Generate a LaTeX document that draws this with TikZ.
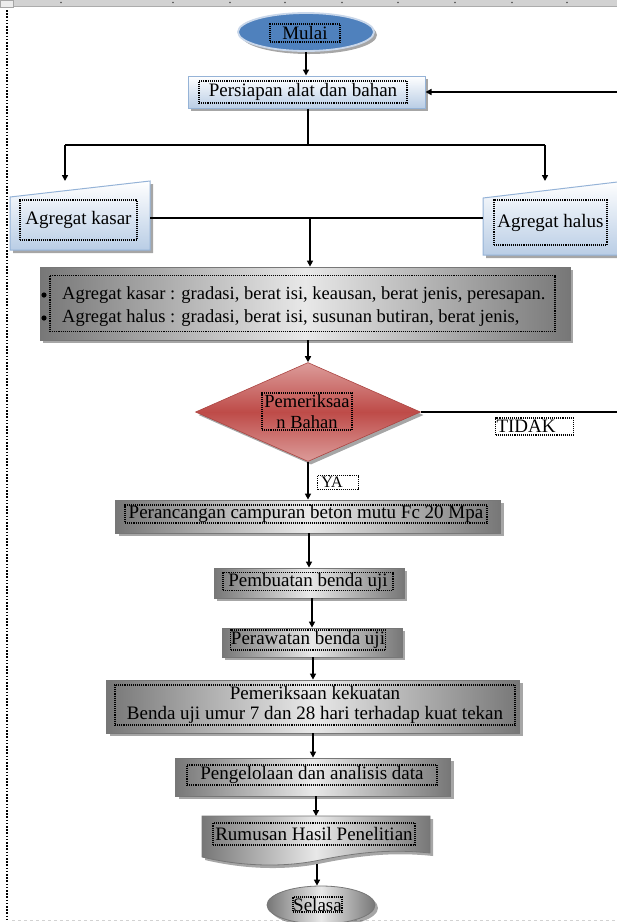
\documentclass[tikz,border=0pt]{standalone}
\usepackage{fontspec}
\setmainfont{Liberation Serif}
\usetikzlibrary{shapes.geometric,arrows.meta,shadows}
\definecolor{mblue}{HTML}{4F81BD}
\definecolor{rimblue}{HTML}{C9D7EA}
\definecolor{lblue}{HTML}{B9CDE5}
\definecolor{bblue}{HTML}{95B3D7}
\definecolor{dred}{HTML}{BE4B48}
\definecolor{lred}{HTML}{DC9C9A}
\definecolor{dgray}{HTML}{777777}
\definecolor{lgray}{HTML}{E8E8E8}
\begin{document}
\begin{tikzpicture}[x=1pt,y=-1pt,
  ln/.style={line width=1.5pt, draw=black},
  arr/.style={ln, -{Triangle[length=6pt,width=6pt]}},
  fnt/.style={font=\fontsize{19}{21}\selectfont},
  tf/.style={fnt, draw=black, densely dotted, line width=1.1pt, inner sep=0pt},
  txt/.style={font=\fontsize{18.5}{21}\selectfont, inner sep=0pt},
  shd/.style={drop shadow={shadow xshift=3pt, shadow yshift=-3pt, fill=black, opacity=0.35}},
  gbox/.style={shd, draw=dgray, line width=0.8pt, left color=dgray, right color=dgray, middle color=lgray, inner sep=0pt},
  bbox/.style={shd, draw=bblue, line width=1pt, top color=white, bottom color=lblue, inner sep=0pt},
  ph/.style={inner sep=0pt, outer sep=0pt}
]
\useasboundingbox (0,0) rectangle (617,922);
\clip (0,0) rectangle (617,922);

% ruler and page edge
\fill[gray!35] (0,0) rectangle (617,6);
\draw[gray!65, line width=0.8pt] (0,6) -- (617,6);
\foreach \x in {61,173,230,285,342,398,455,512,567} \fill[gray!60!black] (\x,2.5) circle (0.9pt);
\filldraw[fill=gray!15, draw=gray!70, line width=0.8pt] (0,0) rectangle (13,7);
\draw[line width=1.6pt, dash pattern=on 1.6pt off 1.6pt] (7,10) -- (7,922);
\draw[gray!35, dashed, line width=0.8pt] (12,920) -- (617,920);

% Mulai
\node[ellipse, shd, fill=mblue, draw=rimblue, line width=1.8pt, minimum width=136pt, minimum height=38pt] (mulai) at (306,32) {};
\node[tf, minimum width=70pt, minimum height=18pt] (tmulai) at (305,33) {Mulai};

% Persiapan
\node[bbox, minimum width=237pt, minimum height=32pt] (persiapan) at (306.5,92) {};
\node[tf, minimum width=208pt, minimum height=22pt] (tpersiapan) at (303,92) {Persiapan alat dan bahan};

% Agregat kasar / halus
\path[bbox] (10,197) -- (150,181) -- (150,250) -- (10,250) -- cycle;
\node[ph, minimum width=140pt, minimum height=64pt] (kasar) at (80,218) {};
\node[tf, minimum width=117pt, minimum height=40pt] (tkasar) at (78.5,220) {Agregat kasar};
\path[bbox] (483,198) -- (630,180.5) -- (630,255) -- (483,255) -- cycle;
\node[ph, minimum width=134pt, minimum height=74pt] (halus) at (550,218) {};
\node[tf, minimum width=113pt, minimum height=45pt] (thalus) at (550.5,222.5) {Agregat halus};

% bullet box
\node[gbox, minimum width=530pt, minimum height=73pt] (bul) at (305,303.5) {};
\node[tf, minimum width=505pt, minimum height=56pt] (tbul) at (302.5,303.5) {};
\fill (44,295) circle (2.6pt);
\fill (44,318) circle (2.6pt);
\node[txt, anchor=west] (b1) at (62,295) {Agregat kasar : gradasi, berat isi, keausan, berat jenis, peresapan.};
\node[txt, anchor=west] (b2) at (62,318) {Agregat halus : gradasi, berat isi, susunan butiran, berat jenis,};

% decision
\node[diamond, shd, draw=dred!90!black, line width=0.6pt, top color=lred, bottom color=lred, middle color=dred, minimum width=225pt, minimum height=99pt, inner sep=0pt] (dia) at (308,412) {};
\node[tf, minimum width=90pt, minimum height=37pt, align=center, font=\fontsize{18.5}{21}\selectfont] (tdia) at (307,411.5) {Pemeriksaa\\n Bahan};
\node[tf, minimum width=78pt, minimum height=17pt, anchor=west] (tidak) at (495,426.5) {TIDAK\hspace*{17pt}};
\node[tf, minimum width=41pt, minimum height=14pt, anchor=west, font=\fontsize{16}{18}\selectfont] (ya) at (317,482.5) {YA\hspace*{12pt}};

% process boxes
\node[gbox, minimum width=385pt, minimum height=33pt] (p1) at (308,516.5) {};
\node[tf, minimum width=362pt, minimum height=18pt] (tp1) at (306,514) {Perancangan campuran beton mutu Fc 20 Mpa};
\node[gbox, minimum width=190pt, minimum height=30pt] (p2) at (309,583) {};
\node[tf, minimum width=170pt, minimum height=17pt] (tp2) at (308,581.5) {Pembuatan benda uji};
\node[gbox, minimum width=180pt, minimum height=29pt] (p3) at (312,642.5) {};
\node[tf, minimum width=155pt, minimum height=20pt] (tp3) at (308,640) {Perawatan benda uji};
\node[gbox, minimum width=413pt, minimum height=53pt] (p4) at (313,706.5) {};
\node[tf, minimum width=400pt, minimum height=40pt, align=center, font=\fontsize{19}{20}\selectfont] (tp4) at (315,705) {Pemeriksaan kekuatan\\Benda uji umur 7 dan 28 hari terhadap kuat tekan};
\node[gbox, minimum width=275pt, minimum height=38pt] (p5) at (313,777) {};
\node[tf, minimum width=250pt, minimum height=20pt] (tp5) at (312,775) {Pengelolaan dan analisis data};
\path[gbox] (202,816) -- (430,816) -- (430,853) .. controls (392,849) and (360,852) .. (320,860) .. controls (282,868) and (240,866) .. (202,857) -- cycle;
\node[ph, minimum width=228pt, minimum height=44pt] (p6) at (316,838) {};
\node[tf, minimum width=202pt, minimum height=22pt] (tp6) at (314,834) {Rumusan Hasil Penelitian};
\node[ellipse, gbox, minimum width=108pt, minimum height=38pt] (sel) at (321,905) {};
\node[tf, minimum width=49pt, minimum height=15pt] (tsel) at (317.5,904.5) {Selasa};

% connectors
\coordinate (eR1) at (617,92);
\coordinate (j1) at (308,145);
\coordinate (jL) at (65,145);
\coordinate (jR) at (545,145);
\coordinate (kT) at (65,181);
\coordinate (hT) at (545,181);
\coordinate (j2) at (310,218);
\coordinate (eR2) at (617,412);
\coordinate (p6b) at (317,864);

\draw[arr] (mulai.south) -- (mulai.south |- persiapan.north);
\draw[arr] (eR1) -- (persiapan.east);
\draw[ln] (j1 |- persiapan.south) -- (j1);
\draw[ln] (jL) -- (jR);
\draw[arr] (jL) -- (kT);
\draw[arr] (jR) -- (hT);
\draw[ln] (kasar.east) -- (halus.west);
\draw[arr] (j2) -- (j2 |- bul.north);
\draw[arr] (dia.north |- bul.south) -- (dia.north);
\draw[ln] (dia.east) -- (eR2);
\draw[arr] (dia.south) -- (dia.south |- p1.north);
\draw[arr] (p2.north |- p1.south) -- (p2.north);
\draw[arr] (p3.north |- p2.south) -- (p3.north);
\draw[arr] (p4.north |- p3.south) -- (p4.north);
\draw[arr] (p5.north |- p4.south) -- (p5.north);
\draw[arr] (p6.north |- p5.south) -- (p6.north);
\draw[arr] (p6b) -- (p6b |- sel.north);
\end{tikzpicture}
\end{document}
